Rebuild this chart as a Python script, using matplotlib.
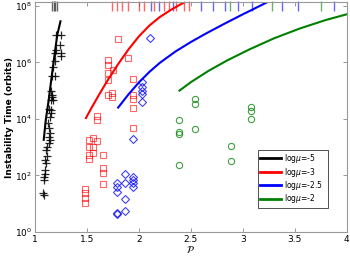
import matplotlib
matplotlib.use("Agg")
import matplotlib.pyplot as plt
import numpy as np

# ---- curves (P, log10 T) ----
curve_m5_P = [1.084, 1.105, 1.132, 1.15, 1.173, 1.195, 1.214, 1.245]
curve_m5_logT = [3.26, 4.0, 4.67, 5.2, 5.85, 6.45, 6.97, 7.45]
curve_m3_P = [1.49, 1.55, 1.62, 1.70, 1.80, 1.90, 2.00, 2.10, 2.20, 2.30, 2.40, 2.49]
curve_m3_logT = [4.03, 4.43, 4.88, 5.37, 5.94, 6.46, 6.92, 7.3, 7.6, 7.84, 8.05, 8.22]
curve_m25_P = [1.80, 1.90, 2.00, 2.10, 2.20, 2.35, 2.50, 2.65, 2.83, 3.00, 3.10, 3.23]
curve_m25_logT = [4.4, 4.87, 5.29, 5.66, 5.98, 6.38, 6.72, 7.03, 7.38, 7.7, 7.88, 8.12]
curve_m2_P = [2.39, 2.50, 2.67, 2.85, 3.07, 3.30, 3.55, 3.80, 4.00]
curve_m2_logT = [5.0, 5.3, 5.7, 6.07, 6.47, 6.85, 7.2, 7.5, 7.7]

# ---- scatter: black '+' (log mu = -5) ----
blk_P = [1.205, 1.253, 1.237, 1.205, 1.253, 1.247, 1.19, 1.19, 1.173, 1.163, 1.195,
         1.151, 1.163, 1.151, 1.173, 1.132, 1.157, 1.151, 1.125, 1.132, 1.141, 1.132,
         1.141, 1.132, 1.109, 1.118, 1.109, 1.099, 1.087, 1.087, 1.077, 1.087,
         1.16, 1.145, 1.12, 1.10, 1.095]
blk_logT = [6.97, 6.97, 6.62, 6.44, 6.33, 6.21, 6.33, 6.05, 5.85, 5.50, 5.50,
            4.97, 4.79, 4.67, 4.67, 4.34, 4.32, 4.20, 3.85, 3.67, 3.49, 3.37,
            3.26, 3.14, 2.90, 2.67, 2.43, 2.19, 1.96, 1.84, 1.37, 1.31,
            4.85, 4.05, 3.0, 2.55, 2.05]
# ---- red squares (log mu = -3) ----
red_P = [1.795, 1.70, 1.70, 1.75, 1.89, 1.70, 1.70, 1.70, 1.74, 1.74, 1.945, 1.945,
         1.945, 1.945, 1.60, 1.60, 1.945, 1.52, 1.52, 1.56, 1.56, 1.60, 1.52, 1.52,
         1.56, 1.65, 1.65, 1.65, 1.65, 1.48, 1.48, 1.48, 1.48]
red_logT = [6.83, 6.09, 5.91, 5.73, 6.15, 5.62, 5.38, 4.85, 4.91, 4.77, 5.42, 4.85,
            4.71, 4.38, 4.11, 3.96, 3.69, 3.26, 3.02, 3.32, 3.02, 3.23, 2.73, 2.57,
            2.79, 2.73, 2.25, 2.10, 1.70, 1.51, 1.37, 1.19, 1.04]
# ---- blue diamonds (log mu = -2.5) ----
blue_P = [2.106, 2.026, 2.026, 2.026, 2.026, 2.026, 1.945, 1.865, 1.945, 1.945, 1.945,
          1.865, 1.945, 1.79, 1.79, 1.79, 1.865, 1.79, 1.79, 1.865]
blue_logT = [6.86, 5.32, 5.14, 5.0, 4.88, 4.58, 3.28, 2.05, 1.96, 1.84, 1.72,
             1.72, 1.58, 1.72, 1.60, 1.43, 1.17, 0.68, 0.63, 0.75]
# ---- green circles (log mu = -2) ----
grn_P = [2.54, 2.54, 2.39, 3.08, 3.08, 3.08, 2.39, 2.39, 2.54, 2.39, 2.885, 2.885]
grn_logT = [4.70, 4.53, 3.96, 4.41, 4.28, 3.99, 3.52, 3.45, 3.65, 2.37, 3.04, 2.51]

# ---- systems stable to end of integration (shown at top) ----
top_black_P = [1.163, 1.178, 1.192, 1.21]
top_red_P = [1.743, 1.79, 1.84, 1.89, 2.0, 2.05, 2.14, 2.24, 2.29, 2.36, 2.43, 2.48]
top_blue_P = [2.115, 2.19, 2.33, 2.60, 2.71, 2.83, 2.95, 3.09, 3.38, 3.53, 3.88]
top_green_P = [2.875, 3.28, 3.75]
top_T = 1e8

legend_labels = [r'log$\mu$=-5', r'log$\mu$=-3', r'log$\mu$=-2.5', r'log$\mu$=-2']
green = '#008000'

fig = plt.figure(figsize=(3.5, 2.63), dpi=100)
ax = fig.add_axes([0.1, 0.118, 0.891, 0.874])

def tp(v):
    return 10 ** np.asarray(v)

ax.plot(blk_P, tp(blk_logT), '+', color='black', ms=6, mew=0.9, alpha=0.85)
ax.plot(red_P, tp(red_logT), 's', mfc='none', mec='red', ms=4, mew=0.8, alpha=0.6)
ax.plot(blue_P, tp(blue_logT), 'D', mfc='none', mec='blue', ms=4, mew=0.8, alpha=0.75)
ax.plot(grn_P, tp(grn_logT), 'o', mfc='none', mec=green, ms=4.5, mew=0.8, alpha=0.75)

for P, c in [(top_black_P, 'black'), (top_red_P, 'red'), (top_blue_P, 'blue'), (top_green_P, green)]:
    ax.plot(P, [top_T] * len(P), '|', color=c, ms=7, mew=1.0, alpha=0.6, clip_on=False)

l1, = ax.plot(curve_m5_P, tp(curve_m5_logT), color='black', lw=1.5)
l2, = ax.plot(curve_m3_P, tp(curve_m3_logT), color='red', lw=1.5)
l3, = ax.plot(curve_m25_P, tp(curve_m25_logT), color='blue', lw=1.5)
l4, = ax.plot(curve_m2_P, tp(curve_m2_logT), color=green, lw=1.5)

ax.set_yscale('log')
ax.set_xlim(1, 4)
ax.set_ylim(1, 1.35e8)
ax.set_xticks([1, 1.5, 2, 2.5, 3, 3.5, 4])
ax.set_xticklabels(['1', '1.5', '2', '2.5', '3', '3.5', '4'])
ax.set_yticks([1e0, 1e2, 1e4, 1e6, 1e8])
ax.yaxis.set_minor_locator(matplotlib.ticker.NullLocator())
ax.tick_params(direction='in', top=True, right=True, labelsize=6.5, length=3,
               color='#888888', width=0.6, pad=2)
for s in ax.spines.values():
    s.set_color('#999999')
    s.set_linewidth(0.8)

ax.set_ylabel('Instability Time (orbits)', fontsize=6.5, fontweight='bold', labelpad=1)
ax.set_xlabel(r'$\mathcal{P}$', fontsize=7, labelpad=0)

leg = ax.legend([l1, l2, l3, l4], legend_labels, loc='lower left',
                bbox_to_anchor=(0.714, 0.106, 0.226, 0.21), mode='expand',
                fontsize=5.5, frameon=True, fancybox=False, edgecolor='black',
                handlelength=2.8, handletextpad=0.3, borderpad=0.3,
                labelspacing=0.05, borderaxespad=0)
leg.get_frame().set_linewidth(0.6)
for h in leg.get_lines():
    h.set_linewidth(2)

fig.savefig('out.png', dpi=100)
